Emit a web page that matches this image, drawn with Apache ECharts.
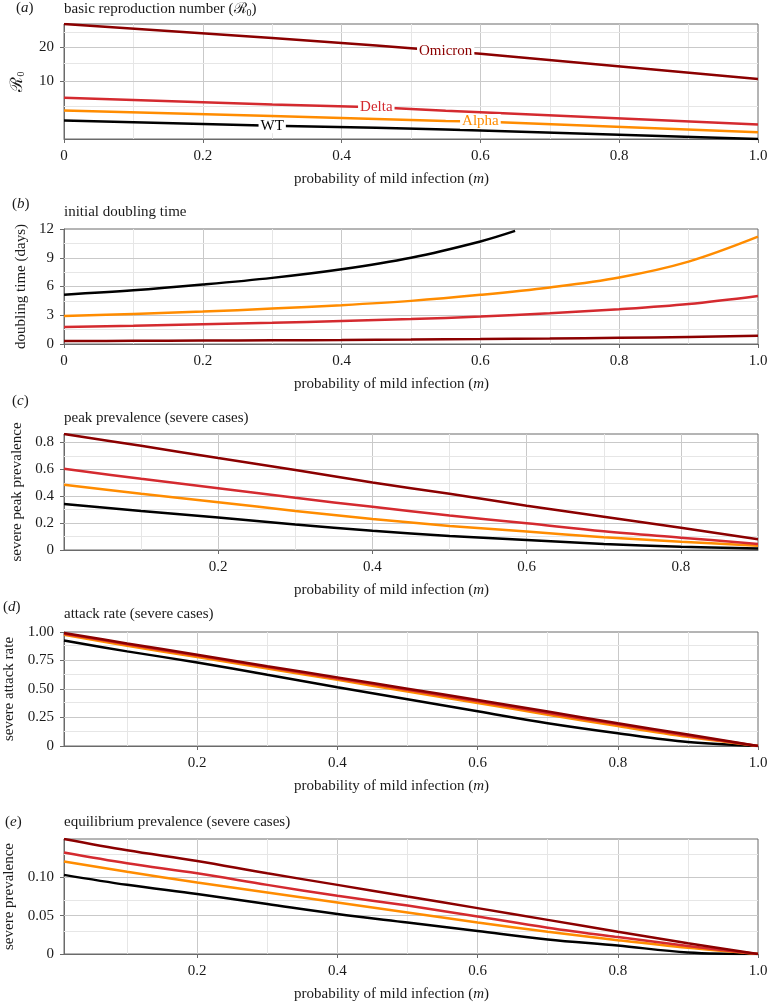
<!DOCTYPE html>
<html><head><meta charset="utf-8">
<script src="https://cdn.jsdelivr.net/npm/echarts@6/dist/echarts.min.js"></script>
<style>html,body{margin:0;padding:0;background:#fff}#c{width:769px;height:1005px}</style>
</head><body><div id="c"></div>
<script>
const F = '"Liberation Serif","Times New Roman",serif';
const variants = ['WT', 'Alpha', 'Delta', 'Omicron'];
const colors = { WT: '#000000', Alpha: '#ff8c00', Delta: '#d42a2f', Omicron: '#8b0000' };

// (a) basic reproduction number (square-root axis)
const mA = [0, 0.3, 0.45, 0.55, 0.6, 1.0];
const r0 = {
  WT:      [2.88, 2.25, 2.03, 1.85, 1.75, 1.0],
  Alpha:   [4.3, 3.48, 3.07, 2.8, 2.75, 1.57],
  Delta:   [6.53, 5.27, 4.8, 4.25, 4.04, 2.39],
  Omicron: [28.4, 23.06, 20.4, 18.6, 17.7, 10.6]
};
const r0LabelAt = { WT: 0.3, Delta: 0.45, Omicron: 0.55, Alpha: 0.6 };
const r0Range = [1, 28.4];
const r0Ticks = [10, 20];
const r0GridMajor = [10, 20];
const r0GridMinor = [5, 15, 25];

// (b) initial doubling time
const mB = [0, 0.1, 0.2, 0.3, 0.4, 0.5, 0.6, 0.7, 0.8, 0.9, 1.0];
const mBWT = [0, 0.1, 0.2, 0.3, 0.4, 0.5, 0.6, 0.65];
const dbl = {
  WT:      [5.15, 5.6, 6.2, 6.9, 7.8, 9.0, 10.7, 11.8],
  Alpha:   [2.93, 3.14, 3.38, 3.7, 4.05, 4.5, 5.13, 5.9, 6.94, 8.6, 11.2],
  Delta:   [1.78, 1.9, 2.06, 2.22, 2.4, 2.6, 2.86, 3.21, 3.63, 4.18, 5.02],
  Omicron: [0.31, 0.33, 0.36, 0.39, 0.42, 0.46, 0.51, 0.57, 0.64, 0.74, 0.85]
};

// (c) peak prevalence (severe cases)
const mC = [0, 0.1, 0.2, 0.3, 0.4, 0.5, 0.6, 0.7, 0.8, 0.9];
const peak = {
  WT:      [0.343, 0.29, 0.241, 0.19, 0.144, 0.105, 0.075, 0.045, 0.025, 0.011],
  Alpha:   [0.485, 0.418, 0.356, 0.29, 0.231, 0.179, 0.137, 0.095, 0.062, 0.032],
  Delta:   [0.604, 0.53, 0.46, 0.388, 0.321, 0.256, 0.199, 0.14, 0.092, 0.045],
  Omicron: [0.863, 0.775, 0.684, 0.595, 0.502, 0.418, 0.33, 0.248, 0.166, 0.08]
};

// (d) attack rate (severe cases)
const mD = [0.01, 0.1, 0.2, 0.3, 0.4, 0.5, 0.6, 0.7, 0.8, 0.9, 1.0];
const attack = {
  WT:      [0.925, 0.83, 0.733, 0.625, 0.516, 0.41, 0.305, 0.2, 0.112, 0.035, 0],
  Alpha:   [0.975, 0.88, 0.78, 0.68, 0.58, 0.478, 0.378, 0.275, 0.175, 0.08, 0],
  Delta:   [0.985, 0.893, 0.793, 0.692, 0.593, 0.493, 0.392, 0.29, 0.19, 0.09, 0],
  Omicron: [0.991, 0.9, 0.8, 0.7, 0.602, 0.503, 0.403, 0.302, 0.2, 0.1, 0]
};

// (e) equilibrium prevalence (severe cases)
const mE = [0.01, 0.1, 0.2, 0.3, 0.4, 0.5, 0.6, 0.7, 0.8, 0.9, 1.0];
const equil = {
  WT:      [0.103, 0.09, 0.078, 0.065, 0.052, 0.041, 0.03, 0.019, 0.011, 0.002, 0],
  Alpha:   [0.1205, 0.107, 0.093, 0.08, 0.067, 0.054, 0.041, 0.029, 0.018, 0.008, 0],
  Delta:   [0.132, 0.118, 0.105, 0.09, 0.0757, 0.063, 0.0487, 0.0343, 0.022, 0.0105, 0],
  Omicron: [0.1497, 0.135, 0.121, 0.105, 0.09, 0.0748, 0.0597, 0.0444, 0.029, 0.014, 0]
};

const xMinDE = 0.01;
const xTicksDE = [0.2, 0.4, 0.6, 0.8, 1.0];
const xMajor = [0.2, 0.4, 0.6, 0.8];
const xMinor = [0.1, 0.3, 0.5, 0.7, 0.9];
const xMinorC = [0.1, 0.3, 0.5, 0.7];

const panels = [
  { letter: 'a', title: 'basic reproduction number (ℛ{s|0})', yName: 'ℛ{s|0}', top: 24, height: 115,
    yMajor: r0GridMajor.map(Math.sqrt), yMinor: r0GridMinor.map(Math.sqrt), xMinor: xMinor,
    letterTop: 1, letterLeft: 16, titleTop: 1, yGap: 38 },
  { letter: 'b', title: 'initial doubling time', yName: 'doubling time (days)', top: 229, height: 115,
    yMajor: [3, 6, 9], yMinor: [1.5, 4.5, 7.5, 10.5], xMinor: xMinor,
    letterTop: 197, letterLeft: 12, titleTop: 205, yGap: 35 },
  { letter: 'c', title: 'peak prevalence (severe cases)', yName: 'severe peak prevalence', top: 434, height: 116,
    yMajor: [0.2, 0.4, 0.6, 0.8], yMinor: [0.1, 0.3, 0.5, 0.7], xMinor: xMinorC,
    letterTop: 394, letterLeft: 12, titleTop: 411, yGap: 38 },
  { letter: 'd', title: 'attack rate (severe cases)', yName: 'severe attack rate', top: 632, height: 114,
    yMajor: [0.25, 0.5, 0.75], yMinor: [0.125, 0.375, 0.625, 0.875], xMinor: xMinor,
    letterTop: 600, letterLeft: 3, titleTop: 607, yGap: 43 },
  { letter: 'e', title: 'equilibrium prevalence (severe cases)', yName: 'severe prevalence', top: 839, height: 115,
    yMajor: [0.05, 0.1], yMinor: [0.025, 0.075, 0.125], xMinor: xMinor,
    letterTop: 815, letterLeft: 5, titleTop: 815, yGap: 43 }
];

const txt = { fontFamily: F, fontSize: 15, color: '#1a1a1a', fontWeight: 'normal' };
const rich = {
  i: { fontFamily: F, fontSize: 15, fontStyle: 'italic', fontWeight: 'normal', color: '#1a1a1a' },
  s: { fontFamily: F, fontSize: 10, fontWeight: 'normal', color: '#1a1a1a', padding: [7, 0, 0, 0] }
};
const axisLineStyle = { show: true, lineStyle: { color: '#6a6a6a', width: 1 } };
const fmt1 = v => (v === 0 ? '0' : v.toFixed(1));
const fmt2 = v => (v === 0 ? '0' : v.toFixed(2));

const grid = [], xAxis = [], yAxis = [], title = [], series = [];

panels.forEach((p, i) => {
  grid.push({ left: 64, right: 11, top: p.top, height: p.height, show: true,
    outerBoundsMode: 'none', containLabel: false,
    borderColor: '#6a6a6a', borderWidth: 1, backgroundColor: 'transparent' });
  title.push({ text: '({i|' + p.letter + '})', left: p.letterLeft, top: p.letterTop, padding: 0,
    textStyle: Object.assign({}, txt, { rich: rich }) });
  title.push({ text: p.title, left: 64, top: p.titleTop, padding: 0,
    textStyle: Object.assign({}, txt, { rich: rich }) });

  const xa = {
    type: 'value', gridIndex: i, min: 0, max: 1, interval: 0.2,
    name: 'probability of mild infection ({i|m})', nameLocation: 'middle', nameGap: 33,
    nameTextStyle: Object.assign({}, txt, { padding: [0, 39, 0, 0], rich: rich }),
    axisLine: axisLineStyle,
    axisTick: { show: true, length: 4, lineStyle: { color: '#6a6a6a' } },
    axisLabel: Object.assign({}, txt, { margin: 10, formatter: fmt1 }),
    splitLine: { show: false }
  };
  if (i === 2) {
    xa.max = 0.9;
    xa.axisLabel.showMinLabel = false;
    xa.axisLabel.showMaxLabel = false;
  }
  if (i >= 3) {
    xa.min = xMinDE;
    xa.max = 1;
    delete xa.interval;
    xa.axisTick.customValues = xTicksDE;
    xa.axisLabel.customValues = xTicksDE;
  }
  xAxis.push(xa);

  const ya = {
    type: 'value', gridIndex: i, name: p.yName, nameLocation: 'middle', nameRotate: 90, nameGap: p.yGap,
    nameTextStyle: Object.assign({}, txt, { rich: rich }),
    axisLine: axisLineStyle,
    axisTick: { show: true, length: 4, lineStyle: { color: '#6a6a6a' } },
    axisLabel: Object.assign({}, txt, { margin: 10 }),
    splitLine: { show: false }
  };
  if (i === 0) {
    ya.min = Math.sqrt(r0Range[0]); ya.max = Math.sqrt(r0Range[1]);
    ya.axisTick.customValues = r0Ticks.map(Math.sqrt);
    ya.axisLabel.customValues = r0Ticks.map(Math.sqrt);
    ya.axisLabel.formatter = v => String(Math.round(v * v));
    ya.nameTextStyle = Object.assign({}, txt, { fontSize: 17, rich: rich });
  } else if (i === 1) {
    ya.min = 0; ya.max = 12; ya.interval = 3;
  } else if (i === 2) {
    ya.min = 0; ya.max = peak.Omicron[0]; ya.interval = 0.2;
    ya.axisLabel.formatter = fmt1; ya.axisLabel.showMaxLabel = false;
  } else if (i === 3) {
    ya.min = 0; ya.max = 1; ya.interval = 0.25; ya.axisLabel.formatter = fmt2;
  } else {
    ya.min = 0; ya.max = equil.Omicron[0]; ya.interval = 0.05;
    ya.axisLabel.formatter = fmt2; ya.axisLabel.showMaxLabel = false;
  }
  yAxis.push(ya);

  const gridLines = []
    .concat(xMajor.map(v => ({ xAxis: v, lineStyle: { color: '#c9c9c9', width: 1, type: 'solid' } })))
    .concat(p.xMinor.map(v => ({ xAxis: v, lineStyle: { color: '#e6e6e6', width: 1, type: 'solid' } })))
    .concat(p.yMajor.map(v => ({ yAxis: v, lineStyle: { color: '#c9c9c9', width: 1, type: 'solid' } })))
    .concat(p.yMinor.map(v => ({ yAxis: v, lineStyle: { color: '#e6e6e6', width: 1, type: 'solid' } })));
  series.push({
    type: 'line', xAxisIndex: i, yAxisIndex: i, data: [], silent: true,
    markLine: { silent: true, symbol: 'none', z: 1, animation: false, label: { show: false },
      emphasis: { disabled: true }, data: gridLines }
  });
});

function pairs(xs, ys) { return xs.map((x, k) => [x, ys[k]]); }

variants.forEach(v => {
  series.push({
    type: 'line', name: v, xAxisIndex: 0, yAxisIndex: 0, z: 3,
    symbol: 'circle', symbolSize: 0, showSymbol: true, silent: true,
    lineStyle: { color: colors[v], width: 2.5 }, itemStyle: { color: colors[v] },
    data: mA.map((x, k) => {
      const d = { value: [x, Math.sqrt(r0[v][k])] };
      if (x === r0LabelAt[v]) {
        d.label = { show: true, position: 'inside', formatter: v, color: colors[v],
          fontFamily: F, fontSize: 15, backgroundColor: '#fff', padding: [0, 2, 0, 2] };
      }
      return d;
    })
  });
  series.push({
    type: 'line', name: v, xAxisIndex: 1, yAxisIndex: 1, z: 3, symbol: 'none', smooth: 0.35, silent: true,
    lineStyle: { color: colors[v], width: 2.5 },
    data: pairs(v === 'WT' ? mBWT : mB, dbl[v])
  });
  series.push({
    type: 'line', name: v, xAxisIndex: 2, yAxisIndex: 2, z: 3, symbol: 'none', smooth: 0.35, silent: true,
    lineStyle: { color: colors[v], width: 2.5 }, data: pairs(mC, peak[v])
  });
  series.push({
    type: 'line', name: v, xAxisIndex: 3, yAxisIndex: 3, z: 3, symbol: 'none', smooth: 0.35, silent: true,
    lineStyle: { color: colors[v], width: 2.5 }, data: pairs(mD, attack[v])
  });
  series.push({
    type: 'line', name: v, xAxisIndex: 4, yAxisIndex: 4, z: 3, symbol: 'none', smooth: 0.35, silent: true,
    lineStyle: { color: colors[v], width: 2.5 }, data: pairs(mE, equil[v])
  });
});

const chart = echarts.init(document.getElementById('c'), null, { renderer: 'canvas' });
chart.setOption({ animation: false, backgroundColor: '#fff', title, grid, xAxis, yAxis, series });
</script>
</body></html>
